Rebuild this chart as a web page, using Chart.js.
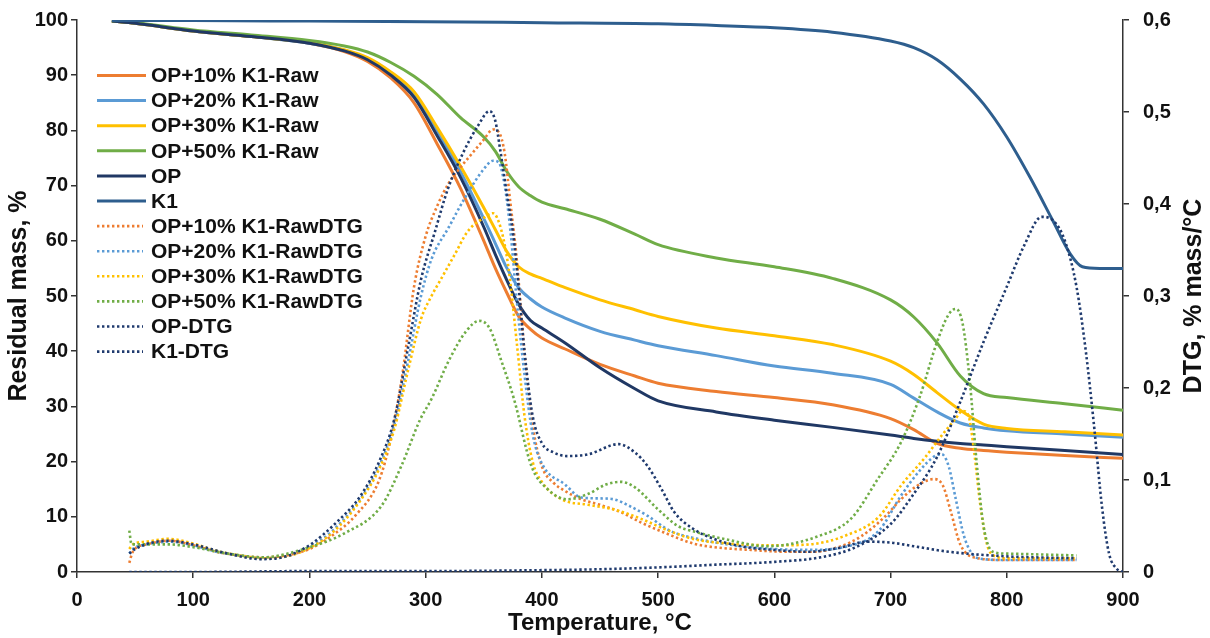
<!DOCTYPE html>
<html>
<head>
<meta charset="utf-8">
<script src="https://cdn.jsdelivr.net/npm/chart.js@4.4.1/dist/chart.umd.min.js"></script>
<style>
  html, body { margin: 0; padding: 0; background: #fff; }
  canvas { display: block; }
</style>
</head>
<body>
<canvas id="tga" width="1210" height="638"></canvas>
<script>
// ---- data ----
const seriesNames = [
  "OP+10% K1-Raw", "OP+20% K1-Raw", "OP+30% K1-Raw", "OP+50% K1-Raw", "OP", "K1",
  "OP+10% K1-RawDTG", "OP+20% K1-RawDTG", "OP+30% K1-RawDTG", "OP+50% K1-RawDTG", "OP-DTG", "K1-DTG"
];
const massTicks = [0, 10, 20, 30, 40, 50, 60, 70, 80, 90, 100];
const dtgTickLabels = ["0", "0,1", "0,2", "0,3", "0,4", "0,5", "0,6"];
const tempTicks = [0, 100, 200, 300, 400, 500, 600, 700, 800, 900];

// TG curves (residual mass, %)
const tgTemp = [30, 50, 100, 150, 200, 230, 250, 270, 290, 310, 330, 350, 360, 370, 380, 390, 400, 420, 450, 480, 500, 550, 600, 650, 700, 720, 740, 760, 780, 800, 850, 900];
const op10Tg = [99.8, 99.4, 98.0, 97.0, 95.8, 94.3, 92.5, 89.5, 85.0, 77.5, 69.5, 60.0, 55.0, 50.5, 46.3, 44.0, 42.4, 40.4, 37.6, 35.5, 34.2, 32.7, 31.6, 30.3, 27.8, 25.8, 23.3, 22.4, 22.0, 21.7, 21.1, 20.6];
const op20Tg = [99.8, 99.4, 98.0, 97.0, 95.8, 94.5, 93.0, 90.3, 86.5, 80.0, 72.5, 64.0, 59.5, 55.0, 51.5, 49.5, 48.0, 46.0, 43.6, 42.0, 41.0, 39.2, 37.3, 36.0, 34.0, 31.5, 29.0, 27.0, 26.1, 25.6, 25.0, 24.4];
const op30Tg = [99.8, 99.4, 98.0, 97.0, 95.9, 94.6, 93.2, 90.6, 87.0, 80.5, 73.5, 66.0, 62.0, 58.0, 55.3, 54.0, 53.2, 51.5, 49.3, 47.5, 46.3, 44.2, 42.8, 41.2, 38.2, 35.8, 32.5, 29.3, 26.8, 26.0, 25.4, 24.8];
const op50Tg = [99.8, 99.5, 98.2, 97.3, 96.3, 95.3, 94.2, 92.3, 89.8, 86.5, 82.3, 78.8, 76.2, 72.5, 69.8, 68.2, 67.0, 65.8, 63.9, 61.2, 59.3, 56.9, 55.3, 53.2, 49.3, 46.2, 41.5, 35.5, 32.3, 31.6, 30.5, 29.3];
const opTg = [99.8, 99.4, 98.0, 97.0, 95.8, 94.4, 92.8, 90.0, 86.0, 79.0, 71.5, 62.5, 57.5, 52.8, 48.5, 45.6, 44.2, 41.5, 37.0, 33.2, 31.0, 29.0, 27.5, 26.2, 24.8, 24.2, 23.7, 23.3, 23.0, 22.7, 22.0, 21.3];
const k1Temp = [30, 100, 200, 300, 400, 500, 550, 600, 650, 700, 720, 740, 760, 780, 800, 820, 840, 855, 865, 880, 900];
const k1Tg = [99.9, 99.9, 99.8, 99.7, 99.5, 99.3, 99.0, 98.6, 97.8, 96.2, 95.0, 92.8, 89.3, 84.8, 78.8, 71.5, 63.5, 57.5, 55.3, 55.0, 55.0];

// DTG curves (% mass/°C)
const op10DtgTemp = [45, 48, 60, 80, 100, 120, 140, 160, 180, 200, 220, 240, 260, 270, 280, 290, 300, 310, 320, 330, 340, 350, 358, 363, 368, 373, 378, 385, 392, 400, 410, 420, 434, 450, 468, 485, 505, 530, 548, 580, 610, 632, 655, 675, 695, 709, 722, 737, 745, 752, 760, 775, 800, 830, 860];
const op10Dtg = [0.010, 0.022, 0.030, 0.034, 0.029, 0.022, 0.018, 0.016, 0.018, 0.025, 0.040, 0.062, 0.100, 0.145, 0.215, 0.310, 0.365, 0.398, 0.423, 0.440, 0.455, 0.470, 0.481, 0.478, 0.455, 0.400, 0.345, 0.240, 0.160, 0.115, 0.097, 0.088, 0.079, 0.073, 0.065, 0.054, 0.043, 0.031, 0.027, 0.024, 0.022, 0.022, 0.027, 0.039, 0.060, 0.079, 0.093, 0.101, 0.094, 0.065, 0.030, 0.015, 0.013, 0.013, 0.013];
const op20DtgTemp = [45, 48, 60, 80, 100, 120, 140, 160, 180, 200, 220, 244, 260, 273, 285, 296, 305, 320, 333, 350, 358, 363, 368, 373, 378, 385, 392, 400, 420, 434, 450, 462, 475, 491, 510, 534, 560, 600, 630, 660, 690, 709, 725, 738, 744, 750, 756, 763, 770, 780, 800, 830, 860];
const op20Dtg = [0.020, 0.025, 0.030, 0.033, 0.029, 0.022, 0.018, 0.015, 0.017, 0.027, 0.045, 0.080, 0.115, 0.160, 0.230, 0.300, 0.340, 0.375, 0.405, 0.438, 0.447, 0.445, 0.420, 0.370, 0.300, 0.215, 0.150, 0.118, 0.095, 0.081, 0.080, 0.079, 0.072, 0.061, 0.045, 0.036, 0.030, 0.025, 0.024, 0.027, 0.045, 0.083, 0.110, 0.126, 0.128, 0.115, 0.080, 0.040, 0.020, 0.014, 0.013, 0.013, 0.013];
const op30DtgTemp = [45, 48, 60, 78, 100, 120, 140, 160, 180, 200, 220, 244, 260, 273, 285, 296, 305, 313, 325, 336, 350, 358, 365, 371, 379, 385, 392, 400, 417, 440, 462, 485, 505, 530, 560, 600, 630, 660, 690, 709, 730, 745, 755, 762, 767, 772, 777, 783, 790, 800, 830, 860];
const op30Dtg = [0.025, 0.030, 0.033, 0.036, 0.031, 0.023, 0.018, 0.015, 0.017, 0.026, 0.043, 0.078, 0.112, 0.155, 0.220, 0.275, 0.300, 0.318, 0.345, 0.370, 0.385, 0.390, 0.372, 0.333, 0.242, 0.170, 0.120, 0.098, 0.079, 0.073, 0.068, 0.058, 0.047, 0.036, 0.031, 0.029, 0.030, 0.039, 0.060, 0.094, 0.125, 0.150, 0.165, 0.175, 0.170, 0.130, 0.075, 0.030, 0.017, 0.015, 0.015, 0.015];
const op50DtgTemp = [45, 47, 60, 80, 100, 130, 160, 200, 230, 262, 279, 295, 305, 320, 335, 346, 355, 365, 376, 391, 405, 422, 440, 455, 468, 480, 500, 517, 534, 560, 594, 638, 666, 689, 709, 725, 740, 750, 756, 762, 768, 774, 780, 788, 800, 830, 860];
const op50Dtg = [0.045, 0.030, 0.030, 0.030, 0.027, 0.020, 0.016, 0.027, 0.042, 0.072, 0.115, 0.165, 0.188, 0.230, 0.262, 0.273, 0.265, 0.230, 0.188, 0.115, 0.090, 0.079, 0.085, 0.095, 0.098, 0.092, 0.068, 0.050, 0.043, 0.035, 0.028, 0.039, 0.058, 0.101, 0.141, 0.190, 0.250, 0.280, 0.286, 0.270, 0.210, 0.120, 0.050, 0.022, 0.020, 0.019, 0.018];
const opDtgTemp = [45, 50, 78, 100, 130, 158, 180, 201, 220, 244, 260, 273, 285, 296, 308, 319, 332, 345, 355, 360, 364, 370, 375, 380, 385, 392, 400, 410, 422, 440, 466, 480, 491, 503, 514, 530, 548, 571, 600, 629, 655, 680, 700, 720, 750, 800, 860];
const opDtg = [0.020, 0.025, 0.034, 0.030, 0.020, 0.014, 0.017, 0.030, 0.050, 0.083, 0.120, 0.166, 0.245, 0.318, 0.370, 0.416, 0.455, 0.485, 0.501, 0.490, 0.460, 0.410, 0.370, 0.310, 0.240, 0.170, 0.140, 0.130, 0.126, 0.128, 0.139, 0.130, 0.115, 0.090, 0.065, 0.047, 0.036, 0.028, 0.024, 0.022, 0.026, 0.033, 0.032, 0.028, 0.022, 0.017, 0.015];
const k1DtgTemp = [45, 100, 200, 300, 400, 450, 500, 550, 600, 640, 670, 700, 720, 740, 760, 780, 800, 815, 830, 840, 850, 860, 868, 875, 882, 888, 895, 900];
const k1Dtg = [0.0, 0.0, 0.001, 0.001, 0.002, 0.003, 0.005, 0.008, 0.011, 0.016, 0.027, 0.052, 0.085, 0.125, 0.185, 0.250, 0.310, 0.355, 0.386, 0.382, 0.360, 0.310, 0.240, 0.160, 0.070, 0.020, 0.003, 0.0];

// ---- styling ----
const ORANGE = "#ED7D31", LBLUE = "#5B9BD5", GOLD = "#FFC000", GREEN = "#70AD47";
const NAVY = "#203864", K1BLUE = "#2E5E8E", DTGNAVY = "#1F3A6E";
const FONT = "'Liberation Sans', Arial, sans-serif";

function pts(temps, vals) {
  return temps.map((t, i) => ({ x: t, y: vals[i] }));
}

function tgSet(i, temps, vals, color) {
  return {
    label: seriesNames[i], data: pts(temps, vals), yAxisID: "y",
    borderColor: color, borderWidth: 3, order: 20 - i
  };
}
function dtgSet(i, temps, vals, color) {
  return {
    label: seriesNames[i], data: pts(temps, vals), yAxisID: "y2",
    borderColor: color, borderWidth: 2.6, borderDash: [2.4, 2.6], order: 20 - i
  };
}

const datasets = [
  tgSet(0, tgTemp, op10Tg, ORANGE),
  tgSet(1, tgTemp, op20Tg, LBLUE),
  tgSet(2, tgTemp, op30Tg, GOLD),
  tgSet(3, tgTemp, op50Tg, GREEN),
  tgSet(4, tgTemp, opTg, NAVY),
  tgSet(5, k1Temp, k1Tg, K1BLUE),
  dtgSet(6, op10DtgTemp, op10Dtg, ORANGE),
  dtgSet(7, op20DtgTemp, op20Dtg, LBLUE),
  dtgSet(8, op30DtgTemp, op30Dtg, GOLD),
  dtgSet(9, op50DtgTemp, op50Dtg, GREEN),
  dtgSet(10, opDtgTemp, opDtg, DTGNAVY),
  dtgSet(11, k1DtgTemp, k1Dtg, DTGNAVY)
];

// legend inside the plot + right axis title reading bottom-to-top
const overlay = {
  id: "overlay",
  afterDraw(chart) {
    const c = chart.ctx;
    c.save();
    c.font = "bold 21px " + FONT;
    c.textBaseline = "middle";
    c.fillStyle = "#111";
    chart.data.datasets.forEach((ds, i) => {
      const y = 75.5 + i * 25.1;
      c.beginPath();
      c.strokeStyle = ds.borderColor;
      c.lineWidth = ds.borderWidth;
      c.setLineDash(ds.borderDash || []);
      c.moveTo(97, y);
      c.lineTo(ds.borderDash ? 143 : 146, y);
      c.stroke();
      c.setLineDash([]);
      c.fillText(ds.label, 151, y + 1);
    });
    const area = chart.chartArea;
    c.translate(1194, (area.top + area.bottom) / 2);
    c.rotate(-Math.PI / 2);
    c.textAlign = "center";
    c.font = "bold 25px " + FONT;
    c.fillText("DTG, % mass/°C", 0, 0);
    c.restore();
  }
};

const axisColor = "#333";
const tickFont = { family: FONT, size: 20, weight: "bold" };

function fixWidth(w) {
  return (s) => { s.width = w; s.paddingTop = 0; s.paddingBottom = 0; };
}

new Chart(document.getElementById("tga"), {
  type: "line",
  data: { datasets },
  options: {
    responsive: false,
    animation: false,
    layout: { padding: { top: 20, left: 0, right: 0, bottom: 0 } },
    elements: {
      point: { radius: 0 },
      line: { cubicInterpolationMode: "monotone", fill: false }
    },
    plugins: { legend: { display: false }, tooltip: { enabled: false } },
    scales: {
      x: {
        type: "linear", min: 0, max: 900,
        afterBuildTicks(s) { s.ticks = tempTicks.map(v => ({ value: v })); },
        afterFit(s) { s.height = 66; },
        ticks: { font: tickFont, color: "#111", padding: 10, maxRotation: 0 },
        grid: { drawOnChartArea: false, drawTicks: true, tickLength: 6, color: axisColor, lineWidth: 1.5 },
        border: { display: true, color: axisColor, width: 1.5 },
        title: { display: true, text: "Temperature, °C", color: "#111",
                 font: { family: FONT, size: 24, weight: "bold" }, padding: { top: 0, bottom: 0 } }
      },
      y: {
        position: "left", min: 0, max: 100,
        afterBuildTicks(s) { s.ticks = massTicks.map(v => ({ value: v })); },
        afterFit: fixWidth(77),
        ticks: { font: tickFont, color: "#111", padding: 3 },
        grid: { drawOnChartArea: false, drawTicks: true, tickLength: 6, color: axisColor, lineWidth: 1.5 },
        border: { display: true, color: axisColor, width: 1.5 },
        title: { display: true, text: "Residual mass, %", color: "#111",
                 font: { family: FONT, size: 25, weight: "bold" }, padding: { top: 4, bottom: 0 } }
      },
      y2: {
        position: "right", min: 0, max: 0.6,
        afterBuildTicks(s) { s.ticks = dtgTickLabels.map((t, i) => ({ value: i / 10 })); },
        afterFit: fixWidth(87),
        ticks: {
          font: tickFont, color: "#111", padding: 14,
          callback: (v) => dtgTickLabels[Math.round(v * 10)]
        },
        grid: { drawOnChartArea: false, drawTicks: true, tickLength: 6, color: axisColor, lineWidth: 1.5 },
        border: { display: true, color: axisColor, width: 1.5 }
      }
    }
  },
  plugins: [overlay]
});
</script>
</body>
</html>
